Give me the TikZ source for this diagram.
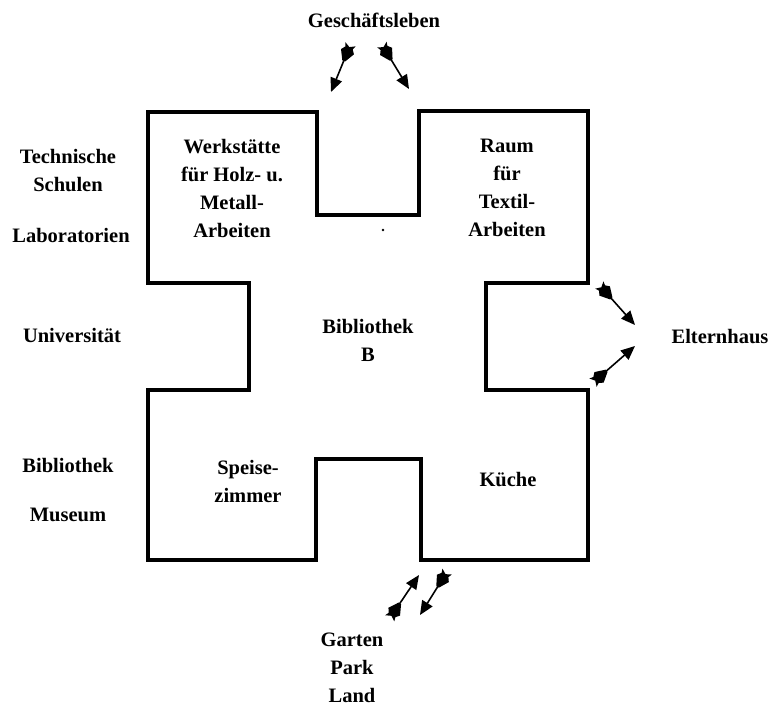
\documentclass[tikz,border=0pt]{standalone}
\usepackage{fontspec}
\setmainfont{Liberation Serif}
\usetikzlibrary{arrows.meta,decorations.markings}
\tikzset{
  wall/.style={line width=3.2pt, line join=miter},
  lbl/.style={font=\bfseries\fontsize{20.5}{28}\selectfont, align=center, inner sep=0pt},
  fletched/.style={line width=1.6pt, -{Triangle[length=14pt,width=12pt]},
    postaction={decorate, decoration={markings, mark=at position 0 with {
      \fill (-1pt,0pt) -- (-4pt,-5.5pt) -- (0pt,-4pt) -- (4pt,-7pt) -- (14pt,-1.5pt)
        -- (14pt,1.5pt) -- (4pt,7pt) -- (0pt,4pt) -- (-4pt,5.5pt) -- cycle;}}}}
}
\begin{document}
\begin{tikzpicture}[x=1pt,y=-1pt]
\useasboundingbox (0,0) rectangle (771,708);
% walls
\draw[wall] (148,112) -- (317,112) -- (317,215) -- (419,215) -- (419,111) -- (588,111)
  -- (588,283) -- (486,283) -- (486,390) -- (588,390) -- (588,560) -- (421,560) -- (421,459)
  -- (316,459) -- (316,560) -- (148,560) -- (148,390) -- (249,390) -- (249,283) -- (148,283) -- cycle;
% labels outside
\node[lbl] (gesch) at (374,20) {Geschäftsleben};
\node[lbl] (tech) at (68,171) {Technische\\Schulen};
\node[lbl] (labor) at (71,235) {Laboratorien};
\node[lbl] (uni) at (72,335) {Universität};
\node[lbl] (bibl) at (68,465) {Bibliothek};
\node[lbl] (mus) at (68,515) {Museum};
\node[lbl] (eltern) at (720,337) {Elternhaus};
\node[lbl] (garten) at (352,668) {Garten\\Park\\Land};
% rooms
\node[lbl] (werk) at (232,188) {Werkstätte\\für Holz- u.\\Metall-\\Arbeiten};
\node[lbl] (raum) at (507,188) {Raum\\für\\Textil-\\Arbeiten};
\node[lbl] (bib) at (368,340) {Bibliothek\\B};
\node[lbl] (speise) at (248,481) {Speise-\\zimmer};
\node[lbl] (kueche) at (508,480) {Küche};
\fill (383,230) circle (1.4pt);
% arrows
\coordinate (t1) at (349,48); \coordinate (h1) at (331,92);
\coordinate (t2) at (384,48); \coordinate (h2) at (409,89);
\coordinate (t3) at (602,288); \coordinate (h3) at (635,325);
\coordinate (t4) at (596,380); \coordinate (h4) at (635,346);
\coordinate (t5) at (392,615); \coordinate (h5) at (419,575);
\coordinate (t6) at (445,575); \coordinate (h6) at (420,615);
\foreach \i in {1,...,6} {\draw[fletched] (t\i) -- (h\i);}
\end{tikzpicture}
\end{document}
